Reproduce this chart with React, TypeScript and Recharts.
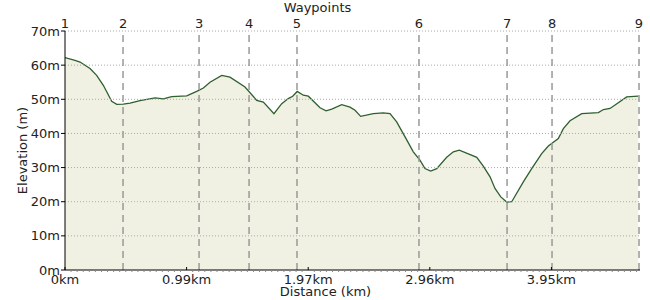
import React from 'react';
import { ComposedChart, Area, XAxis, YAxis, ReferenceLine, Label } from 'recharts';

// elevation profile
const distanceKm = [
  0, 0.081, 0.122, 0.203, 0.257, 0.311, 0.379, 0.42, 0.473, 0.528, 0.609, 0.731, 0.798, 0.866,
  0.988, 1.069, 1.123, 1.177, 1.272, 1.339, 1.461, 1.556, 1.61, 1.696, 1.759, 1.812, 1.848,
  1.885, 1.934, 1.975, 2.07, 2.119, 2.165, 2.246, 2.313, 2.354, 2.4, 2.502, 2.584, 2.638, 2.692,
  2.76, 2.827, 2.881, 2.922, 2.968, 3.017, 3.098, 3.152, 3.2, 3.274, 3.342, 3.395, 3.45, 3.49,
  3.537, 3.585, 3.626, 3.72, 3.788, 3.869, 3.923, 4.004, 4.045, 4.099, 4.194, 4.329, 4.37, 4.424,
  4.559, 4.653,
];
const elevationM = [
  62.2, 61.4, 60.9, 59.0, 57.0, 54.1, 49.4, 48.5, 48.6, 48.9, 49.6, 50.4, 50.1, 50.8,
  51.0, 52.3, 53.3, 55.0, 57.0, 56.5, 53.6, 49.7, 49.2, 45.8, 48.7, 50.2, 50.9,
  52.3, 51.2, 50.9, 47.5, 46.6, 47.1, 48.4, 47.7, 46.8, 45.0, 45.8, 46.0, 45.8, 43.4,
  39.0, 34.6, 32.2, 29.7, 29.0, 29.7, 33.0, 34.6, 35.1, 34.0, 33.0, 30.4, 27.3, 23.9,
  21.4, 19.9, 20.0, 25.8, 29.7, 34.1, 36.3, 38.5, 41.4, 43.7, 45.8, 46.1, 47.0, 47.3,
  50.7, 50.9,
];

const waypointKm = [0, 0.471, 1.088, 1.494, 1.883, 2.873, 3.588, 3.953, 4.659];
const waypointLabels = ['1', '2', '3', '4', '5', '6', '7', '8', '9'];

const distTickKm = [0, 0.987, 1.974, 2.961, 3.948];
const distTickLabels = ['0km', '0.99km', '1.97km', '2.96km', '3.95km'];
const elevTicks = [0, 10, 20, 30, 40, 50, 60, 70];
const routeLengthKm = 4.667;

const data = distanceKm.map((d, i) => ({ d, e: elevationM[i] }));

// minor ticks every 1/20 of a major step
const minorStep = distTickKm[1] / 20;
const axisTicks = Array.from(
  { length: Math.floor(routeLengthKm / minorStep) + 1 },
  (_, i) => +(i * minorStep).toFixed(4)
);

const textColor = '#222';

const DistTick = (props: any) => {
  const { x, y, payload } = props;
  const idx = distTickKm.findIndex((t) => Math.abs(t - payload.value) < 1e-3);
  if (idx < 0) {
    return <line x1={x} x2={x} y1={y} y2={y + 2} stroke="#888" />;
  }
  return (
    <g>
      <line x1={x} x2={x} y1={y - 3} y2={y} stroke="#000" />
      <text x={x} y={y + 14} textAnchor="middle" fontSize={13} fill={textColor}>
        {distTickLabels[idx]}
      </text>
    </g>
  );
};

const ElevationLabel = (props: any) => {
  const { x, y, height } = props.viewBox;
  const cx = x + 22;
  const cy = y + height / 2;
  return (
    <text
      x={cx}
      y={cy}
      transform={`rotate(-90 ${cx} ${cy})`}
      textAnchor="middle"
      dominantBaseline="central"
      fontSize={13}
      fill={textColor}
    >
      Elevation (m)
    </text>
  );
};

const App: React.FC = () => {
  return (
    <div style={{ position: 'absolute', left: 0, top: 0, fontFamily: '"DejaVu Sans", sans-serif' }}>
      <ComposedChart width={650} height={300} data={data} margin={{ top: 0, right: 10, bottom: 0, left: 0 }}>
        <XAxis
          xAxisId="dist"
          dataKey="d"
          type="number"
          domain={[0, routeLengthKm]}
          allowDataOverflow
          ticks={axisTicks}
          interval={0}
          tick={<DistTick />}
          tickLine={false}
          tickSize={0}
          tickMargin={0}
          height={30}
          axisLine={{ stroke: '#000' }}
        >
          <Label value="Distance (km)" position="insideBottom" offset={4} dx={-27} fontSize={13} fill={textColor} />
        </XAxis>
        <XAxis
          xAxisId="wp"
          dataKey="d"
          orientation="top"
          type="number"
          domain={[0, routeLengthKm]}
          allowDataOverflow
          ticks={waypointKm}
          interval={0}
          tickFormatter={(_v: number, i: number) => waypointLabels[i]}
          tick={{ fontSize: 13, fill: textColor }}
          tickLine={false}
          tickSize={0}
          tickMargin={3}
          axisLine={false}
          height={31}
        >
          <Label value="Waypoints" position="insideTop" offset={3} dx={-35} fontSize={13} fill={textColor} />
        </XAxis>
        <YAxis
          type="number"
          domain={[0, 70]}
          ticks={elevTicks}
          interval={0}
          tickFormatter={(v: number) => `${v}m`}
          tick={{ fontSize: 13, fill: textColor }}
          tickSize={4}
          tickMargin={1}
          width={65}
          axisLine={{ stroke: '#000' }}
          tickLine={{ stroke: '#000' }}
          label={<ElevationLabel />}
        />
        <Area
          xAxisId="dist"
          type="linear"
          dataKey="e"
          stroke="#2f5f2f"
          strokeWidth={1.3}
          fill="#f0f0e3"
          fillOpacity={1}
          dot={false}
          activeDot={false}
          isAnimationActive={false}
        />
        {elevTicks.slice(1).map((v) => (
          <ReferenceLine key={`g${v}`} xAxisId="dist" y={v} stroke="#aaa" strokeDasharray="1 2" />
        ))}
        {waypointKm.slice(1).map((w, i) => (
          <ReferenceLine key={`w${i}`} xAxisId="dist" x={w} stroke="#999" strokeWidth={1.5} strokeDasharray="7 5" />
        ))}
      </ComposedChart>
    </div>
  );
};

export default App;
